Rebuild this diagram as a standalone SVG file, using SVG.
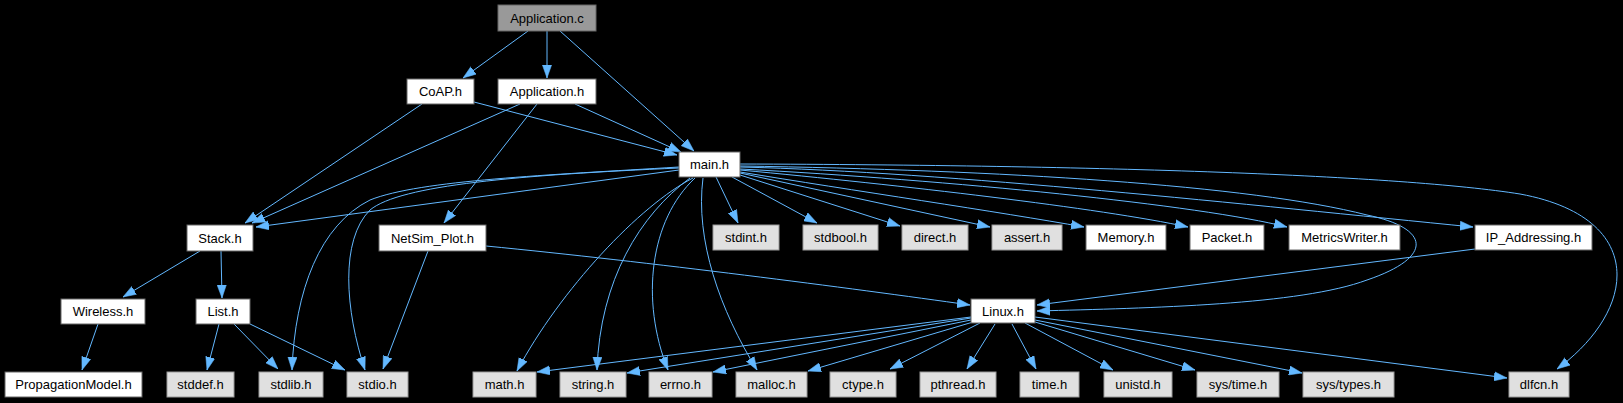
<svg xmlns="http://www.w3.org/2000/svg" width="1623" height="403" viewBox="0 0 1623 403">
<style>
.bg{fill:#000000}
.nd rect{stroke-width:1}
.w rect{fill:#ffffff;stroke:#666666}
.s rect{fill:#e0e0e0;stroke:#999999}
.r rect{fill:#999999;stroke:#666666}
text{font-family:"Liberation Sans",Arial,Helvetica,sans-serif;font-size:13px;fill:#000000;text-anchor:middle}
#edges path{fill:none;stroke:#63b8ff;stroke-width:1;marker-end:url(#ah)}
</style>
<defs>
<marker id="ah" viewBox="0 0 13 10" refX="13" refY="5" markerWidth="13" markerHeight="10" markerUnits="userSpaceOnUse" orient="auto">
<path d="M0,0.4 L13,5 L0,9.6 z" fill="#63b8ff" stroke="#63b8ff" stroke-width="0.5"/>
</marker>
</defs>
<rect class="bg" x="0" y="0" width="1623" height="403"/>
<g id="edges">
<path d="M528,31 L463,78"/>
<path d="M547,31 L547,78"/>
<path d="M560,31 L694,151"/>
<path d="M474,102 L677,155"/>
<path d="M422,104 L245,223"/>
<path d="M575,104 L681,152"/>
<path d="M520,104 L252,223"/>
<path d="M537,104 L444,223"/>
<path d="M679,170 L256,227"/>
<path d="M679,167 C550,175 420,180 370,200 C320,225 295,290 292,370"/>
<path d="M679,168 C520,175 400,185 370,210 C340,240 345,310 365,370"/>
<path d="M693,178 C640,205 560,290 517,371"/>
<path d="M690,178 C640,215 600,280 597,370"/>
<path d="M695,178 C650,220 640,300 668,370"/>
<path d="M703,178 C695,240 720,310 757,370"/>
<path d="M716,177 L738,223"/>
<path d="M732,177 L817,223"/>
<path d="M740,175 L900,226"/>
<path d="M740,173 L990,227"/>
<path d="M740,172 C850,190 1000,212 1084,227"/>
<path d="M740,170 C900,185 1100,208 1188,227"/>
<path d="M740,169 C950,180 1200,205 1287,227"/>
<path d="M740,167 C950,172 1250,205 1473,227"/>
<path d="M740,166 C1000,170 1250,185 1367,215 C1430,228 1435,257 1367,280 C1300,305 1150,308 1037,311"/>
<path d="M740,164 C1100,165 1400,175 1520,194 C1590,207 1617,240 1617,275 C1617,310 1590,345 1557,369"/>
<path d="M486,246 C650,262 850,288 970,305"/>
<path d="M428,251 L383,369"/>
<path d="M1475,249 L1037,305"/>
<path d="M200,251 L123,297"/>
<path d="M221,251 L222,298"/>
<path d="M98,324 L82,370"/>
<path d="M219,324 L207,370"/>
<path d="M234,324 L278,369"/>
<path d="M250,324 L345,370"/>
<path d="M971,317 L537,372"/>
<path d="M971,318 L627,373"/>
<path d="M971,320 L713,372"/>
<path d="M973,322 L808,371"/>
<path d="M980,323 L890,369"/>
<path d="M995,324 L967,369"/>
<path d="M1012,324 L1036,369"/>
<path d="M1025,323 L1113,370"/>
<path d="M1035,322 L1195,370"/>
<path d="M1035,320 L1302,373"/>
<path d="M1035,317 L1507,378"/>
</g>
<g id="n_application_c" class="nd r"><rect x="498" y="5" width="98" height="26"/><text x="547" y="22.5">Application.c</text></g>
<g id="n_coap_h" class="nd w"><rect x="407" y="79" width="67" height="25"/><text x="440.5" y="96">CoAP.h</text></g>
<g id="n_application_h" class="nd w"><rect x="498" y="79" width="98" height="25"/><text x="547" y="96">Application.h</text></g>
<g id="n_main_h" class="nd w"><rect x="679" y="152" width="61" height="25"/><text x="709.5" y="169">main.h</text></g>
<g id="n_stack_h" class="nd w"><rect x="187" y="225" width="66" height="26"/><text x="220" y="242.5">Stack.h</text></g>
<g id="n_netsim_plot_h" class="nd w"><rect x="379" y="225" width="107" height="26"/><text x="432.5" y="242.5">NetSim_Plot.h</text></g>
<g id="n_stdint_h" class="nd s"><rect x="713" y="225" width="66" height="25"/><text x="746" y="242">stdint.h</text></g>
<g id="n_stdbool_h" class="nd s"><rect x="803" y="225" width="75" height="25"/><text x="840.5" y="242">stdbool.h</text></g>
<g id="n_direct_h" class="nd s"><rect x="902" y="225" width="66" height="25"/><text x="935" y="242">direct.h</text></g>
<g id="n_assert_h" class="nd s"><rect x="992" y="225" width="70" height="25"/><text x="1027" y="242">assert.h</text></g>
<g id="n_memory_h" class="nd w"><rect x="1086" y="225" width="80" height="25"/><text x="1126" y="242">Memory.h</text></g>
<g id="n_packet_h" class="nd w"><rect x="1190" y="225" width="74" height="25"/><text x="1227" y="242">Packet.h</text></g>
<g id="n_metricswriter_h" class="nd w"><rect x="1289" y="225" width="111" height="25"/><text x="1344.5" y="242">MetricsWriter.h</text></g>
<g id="n_ip_addressing_h" class="nd w"><rect x="1475" y="225" width="117" height="25"/><text x="1533.5" y="242">IP_Addressing.h</text></g>
<g id="n_wireless_h" class="nd w"><rect x="61" y="299" width="84" height="25"/><text x="103" y="316">Wireless.h</text></g>
<g id="n_list_h" class="nd w"><rect x="196" y="299" width="54" height="25"/><text x="223" y="316">List.h</text></g>
<g id="n_linux_h" class="nd w"><rect x="971" y="299" width="64" height="24"/><text x="1003" y="315.5">Linux.h</text></g>
<g id="n_propagationmodel_h" class="nd w"><rect x="5" y="372" width="137" height="25"/><text x="73.5" y="389">PropagationModel.h</text></g>
<g id="n_stddef_h" class="nd s"><rect x="167" y="372" width="67" height="25"/><text x="200.5" y="389">stddef.h</text></g>
<g id="n_stdlib_h" class="nd s"><rect x="259" y="372" width="64" height="25"/><text x="291" y="389">stdlib.h</text></g>
<g id="n_stdio_h" class="nd s"><rect x="347" y="372" width="61" height="25"/><text x="377.5" y="389">stdio.h</text></g>
<g id="n_math_h" class="nd s"><rect x="473" y="372" width="63" height="25"/><text x="504.5" y="389">math.h</text></g>
<g id="n_string_h" class="nd s"><rect x="560" y="372" width="66" height="25"/><text x="593" y="389">string.h</text></g>
<g id="n_errno_h" class="nd s"><rect x="649" y="372" width="63" height="25"/><text x="680.5" y="389">errno.h</text></g>
<g id="n_malloc_h" class="nd s"><rect x="736" y="372" width="71" height="25"/><text x="771.5" y="389">malloc.h</text></g>
<g id="n_ctype_h" class="nd s"><rect x="830" y="372" width="66" height="25"/><text x="863" y="389">ctype.h</text></g>
<g id="n_pthread_h" class="nd s"><rect x="920" y="372" width="76" height="25"/><text x="958" y="389">pthread.h</text></g>
<g id="n_time_h" class="nd s"><rect x="1020" y="372" width="59" height="25"/><text x="1049.5" y="389">time.h</text></g>
<g id="n_unistd_h" class="nd s"><rect x="1104" y="372" width="68" height="25"/><text x="1138" y="389">unistd.h</text></g>
<g id="n_sys_time_h" class="nd s"><rect x="1197" y="372" width="82" height="25"/><text x="1238" y="389">sys/time.h</text></g>
<g id="n_sys_types_h" class="nd s"><rect x="1303" y="372" width="91" height="25"/><text x="1348.5" y="389">sys/types.h</text></g>
<g id="n_dlfcn_h" class="nd s"><rect x="1509" y="372" width="60" height="25"/><text x="1539" y="389">dlfcn.h</text></g>
</svg>
